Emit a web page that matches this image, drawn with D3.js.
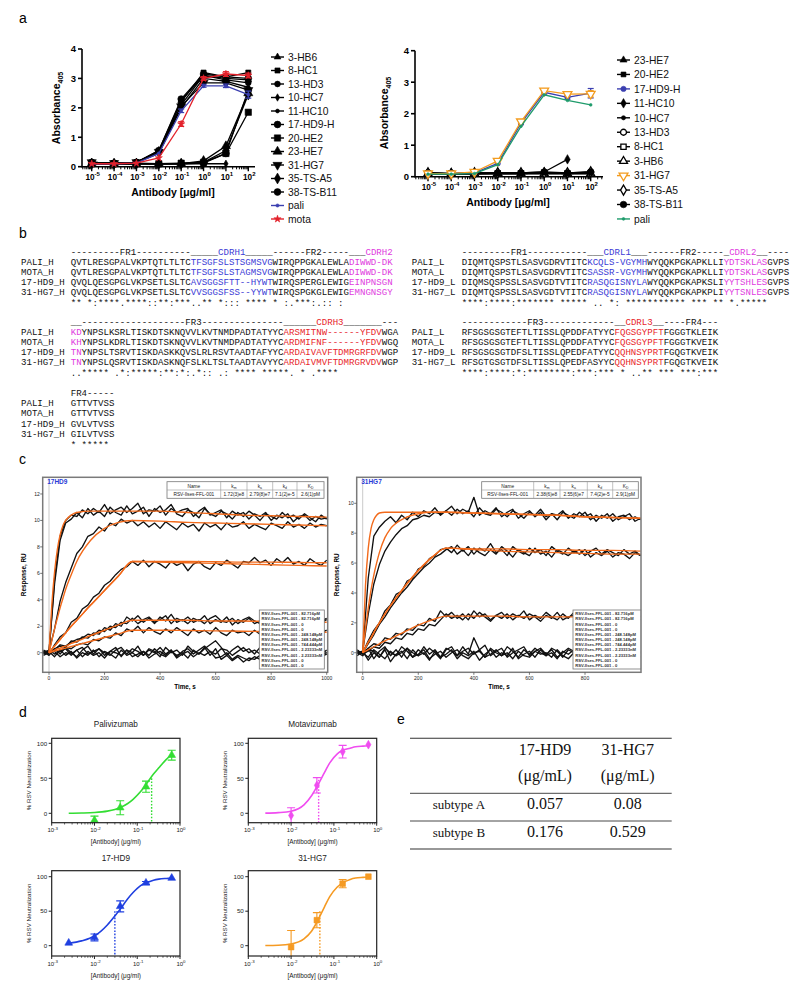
<!DOCTYPE html>
<html><head><meta charset="utf-8">
<script src="https://cdn.jsdelivr.net/npm/d3@7/dist/d3.min.js"></script>
<style>html,body{margin:0;padding:0;background:#fff}svg{display:block}</style>
</head><body>
<svg id="fig" width="800" height="984" xmlns="http://www.w3.org/2000/svg"></svg>
<script>
// ================= DATA =================
// ---- Panel a (ELISA) ----
const elisaConc = [1e-5,1e-4,1e-3,1e-2,1e-1,1,10,100];
const elisaTickExp = [-5,-4,-3,-2,-1,0,1,2];
const elisaYTicks = [0,1,2,3,4];
const elisaLeftNames = ["3-HB6","8-HC1","13-HD3","10-HC7","11-HC10","17-HD9-H","20-HE2","23-HE7","31-HG7","35-TS-A5","38-TS-B11","pali","mota"];
const elisaLeftValues = [
  [0.15,0.12,0.15,0.55,2.25,3.10,3.00,2.95],
  [0.12,0.10,0.15,0.50,2.20,3.20,3.05,3.20],
  [0.15,0.12,0.15,0.50,2.10,3.10,2.95,2.85],
  [0.10,0.10,0.10,0.10,0.10,0.10,0.10],
  [0.15,0.12,0.15,0.45,2.00,3.00,2.90,2.70],
  [0.15,0.12,0.15,0.55,2.30,3.15,3.05,3.00],
  [0.10,0.10,0.10,0.10,0.12,0.15,0.45,1.85],
  [0.10,0.10,0.10,0.10,0.10,0.20,0.70,2.50],
  [0.15,0.12,0.15,0.50,2.05,2.85,2.85,2.60],
  [0.10,0.10,0.10,0.10,0.10,0.15,0.55,2.45],
  [0.12,0.10,0.12,0.10,0.10,0.12,0.45,2.60],
  [0.10,0.10,0.12,0.45,1.90,2.75,2.75,2.45],
  [0.10,0.10,0.12,0.30,1.45,3.00,3.15,3.10]
];
const elisaLeftErr = [null,null,null,null,null,null,null,null,null,null,null,
  [0,0,0,0,0.06,0.05,0.06,0.12],[0,0,0,0,0.08,0.06,0.08,0.08]];
const elisaRightNames = ["23-HE7","20-HE2","17-HD9-H","11-HC10","10-HC7","13-HD3","8-HC1","3-HB6","31-HG7","35-TS-A5","38-TS-B11","pali"];
const elisaRightValues = [
  [0.10,0.10,0.10,0.10,0.10,0.10,0.10,0.10],
  [0.08,0.08,0.08,0.10,0.10,0.12,0.10,0.12],
  [0.10,0.10,0.12,0.42,1.70,2.68,2.52,2.65],
  [0.12,0.10,0.10,0.12,0.12,0.15,0.55],
  [0.10,0.10,0.10,0.10,0.10,0.10,0.10,0.12],
  [0.12,0.10,0.12,0.10,0.10,0.12,0.10,0.15],
  [0.10,0.10,0.10,0.10,0.10,0.12,0.10,0.10],
  [0.10,0.10,0.10,0.12,0.10,0.10,0.10,0.10],
  [0.10,0.10,0.15,0.50,1.75,2.73,2.62,2.63],
  [0.12,0.10,0.12,0.12,0.12,0.12,0.12,0.15],
  [0.12,0.10,0.12,0.12,0.12,0.15,0.12,0.15],
  [0.08,0.08,0.10,0.38,1.60,2.60,2.42,2.28]
];
const elisaRightErr = [null,null,[0,0,0,0,0.05,0.06,0.06,0.15],null,null,null,null,null,[0,0,0,0,0.05,0.06,0.05,0.10],null,null,null];

// ---- Panel b (alignment) ----
const heavyNames = ["PALI_H","MOTA_H","17-HD9_H","31-HG7_H"];
const lightNames = ["PALI_L","MOTA_L","17-HD9_L","31-HG7_L"];
const heavy1Header = ["---------FR1----------","_____CDRH1_____","------FR2-----","___CDRH2"];
const heavy1Rows = [
  ["QVTLRESGPALVKPTQTLTLTC","TFSGFSLSTSGMSVG","WIRQPPGKALEWLA","DIWWD-DK"],
  ["QVTLRESGPALVKPTQTLTLTC","TFSGFSLSTAGMSVG","WIRQPPGKALEWLA","DIWWD-DK"],
  ["QVQLQESGPGLVKPSETLSLTC","AVSGGSFTT--HYWT","WIRQSPERGLEWIG","EINPNSGN"],
  ["QVQLQESGPGLVKPSETLSLTC","VVSGGSFSS--YYWT","WIRQSPGKGLEWIG","EMNGNSGY"]
];
const heavy1Cons = "** *:****.****::**:***" + "..** *:::      " + "**** * :.***:." + "::  :   ";
const heavy2Header = ["__","-------------------FR3---------------","______CDRH3_______","---"];
const heavy2Rows = [
  ["KD","YNPSLKSRLTISKDTSKNQVVLKVTNMDPADTATYYC","ARSMITNW------YFDV","WGA"],
  ["KH","YNPSLKDRLTISKDTSKNQVVLKVTNMDPADTATYYC","ARDMIFNF------YFDV","WGQ"],
  ["TN","YNPSLTSRVTISKDASKKQVSLRLRSVTAADTAFYYC","ARDAIVAVFTDMRGRFDV","WGP"],
  ["TN","YNPSLQSRVTISKDASKNQFSLKLTSLTAADTAVYYC","ARDAIVMVFTDMRGRVDV","WGP"]
];
const heavy2Cons = ".." + "***** .*:*****:**:*:.*:: .:  **** ***" + "**. *          .**" + "** ";
const heavy3Header = ["FR4-----"];
const heavy3Rows = [["GTTVTVSS"],["GTTVTVSS"],["GVLVTVSS"],["GILVTVSS"]];
const heavy3Cons = "*  *****";
const light1Header = ["---------FR1-----------","___CDRL1___","------FR2-----","_CDRL2__","----"];
const light1Rows = [
  ["DIQMTQSPSTLSASVGDRVTITC","KCQLS-VGYMH","WYQQKPGKAPKLLI","YDTSKLAS","GVPS"],
  ["DIQMTQSPSTLSASVGDRVTITC","SASSR-VGYMH","WYQQKPGKAPKLLI","YDTSKLAS","GVPS"],
  ["DIQMSQSPSSLSASVGDTVTITC","RASQGISNYLA","WYQQKPGKAPKSLI","YYTSHLES","GVPS"],
  ["DIQMTQSPSSLSASVGDTVTITC","RASQGISNYLA","WYQQKPGKAPKPLI","YYTSNLES","GVPS"]
];
const light1Cons = "****:****:******* *****" + "  ..    *: " + "*********** **" + "* ** *.*" + "****";
const light2Header = ["------------FR3-------------","__CDRL3__","----FR4---"];
const light2Rows = [
  ["RFSGSGSGTEFTLTISSLQPDDFATYYC","FQGSGYPFT","FGGGTKLEIK"],
  ["RFSGSGSGTEFTLTISSLQPDDFATYYC","FQGSGYPFT","FGGGTKVEIK"],
  ["RFSGSGSGTDFSLTISSLQPEDFATYYC","QQHNSYPRT","FGQGTKVEIK"],
  ["RFSGTGSGTDFSLTISSLQPEDFASYYC","QQHNSYPRT","FGQGTKVEIK"]
];
const light2Cons = "****:****:*:********:***:***" + " * ..** *" + "** ***:***";

// ---- Panel c (SPR sensorgrams), sampled every 20 s from -20 s ----
const hd9Traces = [
  [0.2,0.0,5.6,8.8,10.0,10.4,10.3,10.8,10.5,10.9,10.6,11.2,10.5,10.8,11.0,10.6,10.9,11.3,10.5,10.8,10.7,11.1,10.4,10.9,10.6,10.8,10.9,10.3,10.7,11.0,10.4,10.6,10.8,10.2,10.7,10.4,10.6,10.1,10.5,10.3,10.6,10.0,10.4,10.2,10.5,9.9,10.3,10.4,10.0,10.3,10.1,10.2],
  [0.0,0.1,5.2,8.5,9.8,10.1,10.6,10.2,10.9,10.4,10.7,10.3,11.0,10.6,10.4,11.1,10.5,10.7,11.0,10.3,10.9,10.6,10.8,11.2,10.5,10.3,10.8,10.6,10.2,10.9,10.5,10.3,10.7,10.5,10.1,10.6,10.3,10.7,10.4,10.0,10.5,10.3,10.1,10.6,10.2,10.4,10.1,10.5,10.2,9.9,10.4,10.1],
  [0.0,0.1,1.8,3.9,5.3,6.4,7.5,8.0,8.8,9.0,9.5,9.2,9.8,9.6,10.1,9.8,10.0,9.6,9.9,9.5,9.8,9.4,9.9,9.6,9.3,9.8,9.5,9.7,9.2,9.8,9.5,9.7,9.3,9.8,9.5,9.6,9.9,9.4,9.7,9.5,9.3,9.8,9.6,9.4,9.9,9.5,9.7,9.4,9.8,9.5,9.7,9.6],
  [0.0,-0.1,0.6,1.2,1.5,2.3,2.6,3.3,3.6,4.2,4.5,5.1,5.4,5.9,6.3,6.5,6.9,6.6,7.0,6.5,6.9,6.7,6.4,6.9,6.6,6.8,6.2,6.7,6.9,6.5,6.3,6.8,6.6,7.0,6.7,6.4,6.9,6.8,7.2,6.8,7.0,6.6,7.1,6.8,7.2,6.7,6.9,6.6,7.1,6.8,6.6,7.0],
  [0.0,0.0,0.3,0.5,0.4,0.9,0.8,1.2,1.1,1.5,1.4,1.9,1.7,2.2,2.0,2.7,2.4,2.8,2.3,2.6,2.2,2.7,2.4,2.9,2.3,2.5,2.2,2.6,2.4,2.8,2.2,2.5,2.3,2.7,2.1,2.5,2.3,2.6,2.2,2.4,2.6,2.3,2.5,2.2,2.6,2.4,2.7,2.3,2.5,2.8,2.4,2.6],
  [0.1,0.0,0.2,0.6,0.5,0.8,1.0,1.1,1.4,1.3,1.7,1.6,2.0,1.9,2.3,2.2,2.6,2.2,2.5,2.7,2.3,2.5,2.8,2.2,2.6,2.4,2.7,2.3,2.5,2.2,2.6,2.8,2.4,2.3,2.6,2.2,2.5,2.7,2.4,2.2,2.5,2.3,2.6,2.4,2.2,2.5,2.3,2.6,2.2,2.4,2.3,2.5],
  [0.1,0.0,0.2,0.1,0.4,0.3,0.6,0.7,0.6,1.0,0.9,1.2,1.1,1.5,1.3,1.8,1.6,2.0,1.5,1.9,1.6,1.4,1.8,1.5,1.9,1.6,1.3,1.8,1.5,1.7,1.4,1.9,1.5,1.3,1.7,1.5,1.6,1.3,1.7,1.4,1.6,1.8,1.4,1.6,1.3,1.7,1.5,1.8,1.4,1.6,1.5,1.7],
  [0.1,-0.2,0.3,-0.1,0.4,0.0,-0.3,0.2,0.5,-0.1,0.3,-0.2,0.1,0.4,-0.3,0.2,0.0,0.5,-0.2,0.3,0.1,-0.3,0.4,0.0,0.2,-0.2,0.5,0.1,-0.1,0.3,0.6,0.9,0.4,-0.2,0.2,0.5,0.1,0.3,-0.1,0.4,0.2,0.0,0.5,0.1,0.3,-0.2,0.4,0.2,0.0,0.3,-0.1,0.2],
  [-0.1,0.1,-0.3,0.2,-0.2,0.1,-0.4,0.0,-0.2,0.2,-0.3,0.1,-0.1,-0.4,0.2,-0.2,0.0,-0.3,0.1,-0.2,0.3,-0.1,-0.3,0.1,-0.2,0.0,-0.4,0.2,-0.1,0.4,-0.2,0.3,-0.5,-0.2,-0.6,-0.3,-0.7,-0.4,-0.5,-0.2,-0.4,0.0,-0.3,0.1,-0.2,0.2,-0.1,-0.3,0.1,-0.2,0.0,-0.1],
  [0.0,0.2,-0.1,0.1,0.3,-0.2,0.2,0.4,-0.1,0.1,0.3,0.0,-0.2,0.2,0.4,-0.1,0.3,0.1,-0.2,0.2,0.0,0.4,-0.1,0.2,-0.3,0.1,0.3,-0.1,0.2,0.5,0.1,-0.1,0.3,0.2,-0.2,0.1,0.4,0.0,0.2,-0.1,0.3,0.1,-0.2,0.2,0.4,0.0,-0.1,0.3,0.1,-0.2,0.2,0.0],
  [-0.2,0.0,0.1,-0.3,0.0,-0.1,0.2,-0.3,0.1,-0.2,0.0,-0.4,0.1,0.0,-0.2,0.2,-0.3,-0.1,0.1,-0.4,-0.1,0.1,-0.2,0.2,-0.4,-0.1,0.1,-0.3,0.0,-0.2,0.1,-0.4,-0.3,0.0,-0.5,-0.2,-0.4,-0.6,-0.3,-0.5,-0.1,-0.3,0.0,-0.2,0.1,-0.3,-0.1,0.1,-0.2,0.0,-0.3,-0.1]
];
const hg7Traces = [
  [0.1,0.0,5.0,7.8,8.4,8.8,9.1,8.7,9.2,8.9,9.4,9.1,9.5,9.3,9.7,9.2,9.5,9.8,9.3,9.6,9.4,10.4,9.2,9.5,9.3,9.7,9.1,9.4,9.6,9.0,9.3,9.5,9.1,9.4,8.9,9.3,9.2,9.5,9.0,9.3,9.1,9.4,8.9,9.2,9.0,9.3,8.8,9.1,9.2,8.9,9.1,8.9],
  [0.0,0.1,2.6,4.6,5.9,6.8,7.4,7.9,8.3,8.5,8.9,9.0,9.2,9.1,9.4,9.3,9.5,9.2,9.6,9.3,9.5,9.1,9.7,9.3,9.2,9.6,9.4,9.1,9.5,9.3,9.0,9.4,9.2,9.6,9.1,9.3,8.9,9.4,9.2,9.0,9.4,9.1,9.3,8.8,9.2,9.0,9.3,8.9,9.1,9.3,8.8,9.0],
  [0.0,0.0,0.8,1.5,2.0,2.8,3.2,3.9,4.1,4.8,5.0,5.6,5.8,6.3,6.5,6.9,7.0,6.7,7.2,6.8,7.1,6.6,7.0,6.8,7.3,6.7,6.9,6.5,7.1,6.8,6.6,7.0,6.7,6.9,6.5,7.1,6.8,6.6,7.0,6.7,6.9,6.5,6.8,7.0,6.6,6.9,6.7,6.5,6.9,6.6,6.8,6.5],
  [0.1,0.0,0.6,1.2,1.9,2.4,3.0,3.5,4.0,4.4,4.9,5.3,5.7,6.0,6.4,6.6,6.9,7.1,6.6,6.9,6.5,7.0,6.7,6.5,6.9,6.6,7.1,6.8,6.4,6.9,6.7,6.5,7.0,6.6,6.8,6.4,6.9,6.7,6.5,6.8,6.6,6.9,6.4,6.7,6.5,6.8,6.4,6.7,6.6,6.3,6.7,6.5],
  [0.0,0.0,0.3,0.6,0.5,1.0,0.9,1.3,1.2,1.6,1.5,1.9,1.8,2.3,2.1,2.8,2.4,2.7,2.3,2.6,2.2,2.8,2.4,2.6,2.2,2.5,2.7,2.3,2.6,2.4,2.8,2.2,2.5,2.3,2.7,2.4,2.2,2.6,2.3,2.7,2.4,2.2,2.6,2.3,2.8,2.4,2.2,2.6,2.5,2.3,2.7,2.4],
  [0.1,0.0,0.1,0.4,0.3,0.7,0.6,1.0,0.9,1.3,1.2,1.6,1.5,1.9,1.8,2.2,2.6,2.3,2.5,2.2,2.6,2.3,2.7,2.4,2.1,2.5,2.3,2.6,2.2,2.5,2.3,2.6,2.4,2.1,2.5,2.3,2.7,2.2,2.4,2.5,2.2,2.6,2.3,2.5,2.1,2.4,2.6,2.2,2.4,2.3,2.5,2.2],
  [0.2,-0.1,0.3,-0.4,0.1,0.4,-0.2,0.2,-0.3,0.3,0.0,-0.2,0.4,-0.1,0.2,-0.3,0.3,0.1,-0.2,0.4,-0.1,1.0,0.2,-0.3,0.3,0.0,-0.2,0.4,0.1,-0.3,0.2,-0.1,0.3,0.0,-0.2,0.3,0.1,-0.3,0.2,0.0,0.4,-0.2,0.1,0.3,-0.1,0.2,-0.3,0.1,0.3,-0.2,0.2,0.0],
  [-0.2,0.1,-0.5,0.0,-0.3,0.2,-0.6,-0.1,0.1,-0.4,0.2,-0.2,0.0,-0.5,0.1,-0.3,-0.1,0.2,-0.4,0.0,-0.2,0.1,-0.5,-0.1,0.2,-0.3,0.0,-0.2,0.3,-0.4,-0.1,0.1,-0.3,0.2,-0.2,0.0,-0.4,0.1,-0.1,0.2,-0.3,0.0,-0.2,0.1,-0.4,0.0,0.2,-0.3,-0.1,0.1,-0.2,0.0],
  [0.0,-0.2,0.2,0.1,-0.3,0.3,0.0,-0.2,0.4,0.1,-0.3,0.2,-0.1,0.3,0.0,-0.4,0.2,0.4,-0.2,0.1,0.3,-0.1,0.2,0.5,-0.2,0.1,0.3,-0.3,0.0,0.2,0.4,-0.2,0.1,0.3,-0.1,0.2,-0.3,0.0,0.3,0.1,-0.2,0.4,0.0,-0.1,0.2,0.3,-0.2,0.1,-0.1,0.3,0.0,0.1],
  [0.1,0.0,-0.3,0.2,-0.1,-0.4,0.1,-0.2,0.0,0.3,-0.3,-0.1,0.2,-0.4,-0.1,0.1,-0.3,0.0,0.2,-0.2,-0.4,0.0,0.1,-0.3,-0.1,0.2,-0.2,0.0,-0.4,0.1,-0.2,-0.3,0.1,-0.1,0.0,-0.3,0.2,-0.2,-0.4,0.0,-0.1,0.2,-0.3,0.0,-0.2,0.1,-0.4,0.0,-0.2,0.1,-0.1,-0.3]
];
const fitTimes = [0,10,20,30,40,50,60,80,100,150,200,250,300,400,500,600,700,800,900,1000];
const hd9Fits = [
  [0,3.6,6.1,7.8,8.9,9.6,10.0,10.4,10.6,10.7,10.7,10.7,10.7,10.7,10.6,10.5,10.4,10.35,10.3,10.25],
  [0,0.9,1.8,2.6,3.4,4.1,4.8,5.9,6.9,8.5,9.4,9.85,10.0,9.95,9.85,9.8,9.75,9.7,9.65,9.6],
  [0,0.25,0.5,0.75,1.0,1.25,1.5,2.0,2.45,3.6,4.7,5.8,6.9,6.85,6.8,6.75,6.7,6.65,6.6,6.55],
  [0,0.25,0.5,0.75,1.0,1.25,1.5,2.0,2.45,3.6,4.7,5.8,6.9,6.9,6.9,6.88,6.85,6.85,6.82,6.8],
  [0,0.1,0.2,0.3,0.35,0.45,0.5,0.7,0.85,1.3,1.7,2.1,2.45,2.45,2.45,2.4,2.4,2.35,2.35,2.3],
  [0,0.06,0.12,0.18,0.24,0.3,0.35,0.47,0.58,0.87,1.15,1.42,1.7,1.7,1.68,1.65,1.62,1.6,1.58,1.55]
];
const hg7Fits = [
  [0,4.5,7.0,8.3,8.9,9.2,9.35,9.4,9.4,9.4,9.4,9.4,9.4,9.35,9.3,9.25,9.2,9.1,9.05,9.0],
  [0,1.6,3.0,4.2,5.2,6.0,6.7,7.7,8.3,9.0,9.3,9.4,9.4,9.35,9.3,9.25,9.2,9.1,9.05,9.0],
  [0,0.35,0.7,1.0,1.35,1.7,2.0,2.6,3.15,4.4,5.5,6.4,7.0,6.95,6.95,6.9,6.9,6.85,6.85,6.8],
  [0,0.35,0.7,1.0,1.35,1.7,2.0,2.6,3.15,4.4,5.5,6.4,7.0,6.9,6.8,6.75,6.7,6.65,6.6,6.6],
  [0,0.1,0.2,0.3,0.4,0.5,0.6,0.8,0.95,1.4,1.85,2.2,2.45,2.45,2.45,2.4,2.4,2.4,2.35,2.35]
];
const sprTableHead = ["Name","k","k","k","K"];
const sprTableSub = ["","m","a","d","D"];
const hd9TableRow = ["RSV-Ilses-FFL-001","1.72(3)e8","2.79(8)e7","7.1(2)e-5","2.6(1)pM"];
const hg7TableRow = ["RSV-Ilses-FFL-001","2.38(6)e8","2.55(6)e7","7.4(2)e-5","2.9(1)pM"];
const sprLegend = ["RSV-Ilses-FFL-001 - 82.716pM","RSV-Ilses-FFL-001 - 82.716pM","RSV-Ilses-FFL-001 - 0","RSV-Ilses-FFL-001 - 0","RSV-Ilses-FFL-001 - 248.148pM","RSV-Ilses-FFL-001 - 248.148pM","RSV-Ilses-FFL-001 - 744.444pM","RSV-Ilses-FFL-001 - 2.23333nM","RSV-Ilses-FFL-001 - 2.23333nM","RSV-Ilses-FFL-001 - 0","RSV-Ilses-FFL-001 - 0"];
const sprXTicksL = [0,200,400,600,800,1000];
const sprXTicksR = [0,200,400,600,800];
const sprYTicksL = [0,2,4,6,8,10,12];
const sprYTicksR = [0,2,4,6,8,10];

// ---- Panel d (neutralization) ----
const neutTitles = ["Palivizumab","Motavizumab","17-HD9","31-HG7"];
const neutCurveX = [0.0025,0.005,0.01,0.02,0.03,0.04,0.06,0.08,0.12,0.16,0.24,0.32,0.48,0.64];
const paliCurveY = [0.1,0.4,1.1,3.1,5.5,8.2,14,20,31,41,56,65,77,84];
const motaCurveY = [0.3,1,3,12,25,38,58,72,85,90,93,95,96,96.5];
const hd9CurveY  = [3.5,7,14,30,43,53,68,77,87,91,95,96.5,97.5,98];
const hg7CurveY  = [0.2,0.6,2.5,10,21,34,56,71,85,91,96,98,99,99.5];
const paliPtsX = [0.01,0.04,0.16,0.64], paliPtsY = [-10,8,38,83], paliErr = [6,10,8,7];
const motaPtsX = [0.01,0.04,0.16,0.64], motaPtsY = [-3,40,88,98], motaErr = [11,11,9,1];
const hd9PtsX = [0.0025,0.01,0.04,0.16,0.64], hd9PtsY = [4,12,57,91,98], hd9Err = [1,5,8,2,1];
const hg7PtsX = [0.01,0.04,0.16,0.64], hg7PtsY = [-2,37,90,100], hg7Err = [24,11,6,1];
const ic50X = [0.217,0.044,0.030,0.047];
const ic50Y = [50,48,50,50];
const neutYTicks = [0,50,100];
const neutXExp = [-3,-2,-1,0];

// ---- Panel e (IC50 table) ----
const ic50Cols = ["17-HD9","31-HG7"];
const ic50Unit = "(\u03bcg/mL)";
const ic50Rows = ["subtype A","subtype B"];
const ic50Vals = [["0.057","0.08"],["0.176","0.529"]];

// ================= DRAWING =================
const svg = d3.select("#fig");
const SANS = "Arial, 'Liberation Sans', Helvetica, sans-serif";
const MONO = "'Liberation Mono', 'Courier New', 'DejaVu Sans Mono', monospace";
const SERIF = "'Liberation Serif', 'Times New Roman', serif";
svg.append("rect").attr("width",800).attr("height",984).attr("fill","#fff");

const symMap = {tri:d3.symbolTriangle, triD:d3.symbolTriangle, sq:d3.symbolSquare, circ:d3.symbolCircle, dia:d3.symbolDiamond, star:d3.symbolStar};
function drawMarker(g, st, x, y) {
  g.append("path").attr("d", d3.symbol().type(symMap[st.k]).size(st.s)())
    .attr("transform", `translate(${x},${y})` + (st.k === "triD" ? " rotate(180)" : ""))
    .attr("fill", st.open ? "#fff" : st.c).attr("stroke", st.c).attr("stroke-width", st.open ? 1.3 : 0.6);
}

// panel letters
[["a",19,23],["b",19,238],["c",19,464],["d",19,717],["e",397,724]].forEach(([t,x,y]) => {
  svg.append("text").attr("x",x).attr("y",y).attr("font-family",SANS).attr("font-size",14).text(t);
});

// ---------- Panel a ----------
function drawElisa(o) {
  const g = svg.append("g").attr("font-family", SANS);
  const x = d3.scaleLog().domain(o.xDom).range([o.x0, o.x1]);
  const y = d3.scaleLinear().domain([0, 4]).range([o.yB, o.yT]);
  const L = (x1,y1,x2,y2,w) => g.append("line").attr("x1",x1).attr("y1",y1).attr("x2",x2).attr("y2",y2).attr("stroke","#000").attr("stroke-width",w||1.6);
  L(o.x0, o.yB, o.x1, o.yB); L(o.x0, o.yB + 0.8, o.x0, o.yT);
  elisaYTicks.forEach(v => {
    L(o.x0 - 4, y(v), o.x0, y(v));
    g.append("text").attr("x", o.x0 - 6).attr("y", y(v) + 3.3).attr("text-anchor","end")
      .attr("font-size", 9.5).attr("font-weight","bold").text(v);
  });
  const lo = Math.floor(Math.log10(o.xDom[0])), hi = Math.ceil(Math.log10(o.xDom[1]));
  for (let e = lo; e <= hi; e++) for (let k = 2; k <= 9; k++) {
    const v = k * Math.pow(10, e);
    if (v > o.xDom[0] && v < o.xDom[1]) L(x(v), o.yB, x(v), o.yB + 2.6, 1);
  }
  elisaTickExp.forEach(e => {
    const xx = x(Math.pow(10, e));
    L(xx, o.yB, xx, o.yB + 4.5, 1.4);
    const t = g.append("text").attr("x", xx + 1).attr("y", o.yB + 13).attr("text-anchor","middle")
      .attr("font-size", 8.2).attr("font-weight","bold");
    t.append("tspan").text("10");
    t.append("tspan").attr("dy", -3.6).attr("font-size", 6).text(e);
  });
  g.append("text").attr("x", o.xTitleX).attr("y", o.xTitleY).attr("text-anchor","middle")
    .attr("font-size", 10.5).attr("font-weight","bold").text("Antibody [\u03bcg/ml]");
  const yt = g.append("text").attr("transform", `translate(${o.yTitleX},${o.yTitleY}) rotate(-90)`)
    .attr("text-anchor","middle").attr("font-size", 10.5).attr("font-weight","bold");
  yt.append("tspan").text("Absorbance");
  yt.append("tspan").attr("dy", 3).attr("font-size", 7).text("405");
  const order = d3.range(o.values.length).sort((a, b) => (o.styles[a].c === "#000" ? 0 : 1) - (o.styles[b].c === "#000" ? 0 : 1));
  const line = d3.line().x((d, i) => x(elisaConc[i])).y(d => y(d));
  order.forEach(i => {
    const vals = o.values[i], st = o.styles[i];
    g.append("path").attr("d", line(vals)).attr("fill","none").attr("stroke", st.c).attr("stroke-width", st.lw || 1.3);
    const err = o.errs[i];
    if (err) vals.forEach((v, j) => {
      if (err[j] > 0.02) {
        const xx = x(elisaConc[j]);
        L(xx, y(v - err[j]), xx, y(v + err[j]), 1.2).attr("stroke", st.c);
        L(xx - 3, y(v - err[j]), xx + 3, y(v - err[j]), 1.2).attr("stroke", st.c);
        L(xx - 3, y(v + err[j]), xx + 3, y(v + err[j]), 1.2).attr("stroke", st.c);
      }
    });
    vals.forEach((v, j) => drawMarker(g, st, x(elisaConc[j]), y(v)));
  });
  o.names.forEach((n, i) => {
    const st = o.styles[i], yy = o.legY0 + i * o.legStep;
    g.append("line").attr("x1", o.legX - 6.5).attr("x2", o.legX + 6.5).attr("y1", yy).attr("y2", yy)
      .attr("stroke", st.c).attr("stroke-width", 1.4);
    drawMarker(g, st, o.legX, yy);
    g.append("text").attr("x", o.legX + 10.5).attr("y", yy + 3.7).attr("font-size", 10.3).attr("fill","#111").text(n);
  });
}
const K = "#000", BL = "#3b3fb0", RD = "#e3222b", OR = "#f39c1f", TL = "#1e9b6b";
drawElisa({
  xDom:[Math.pow(10,-5.434), Math.pow(10,2.30)], x0:82, x1:255, yB:166.7, yT:49,
  values: elisaLeftValues, errs: elisaLeftErr, names: elisaLeftNames,
  styles:[{k:"tri",s:20,c:K},{k:"sq",s:26,c:K},{k:"circ",s:26,c:K},{k:"dia",s:16,c:K},{k:"circ",s:12,c:K},
    {k:"circ",s:36,c:K},{k:"sq",s:40,c:K},{k:"tri",s:36,c:K},{k:"triD",s:36,c:K},{k:"dia",s:34,c:K},
    {k:"circ",s:36,c:K},{k:"circ",s:8,c:BL},{k:"star",s:16,c:RD}],
  legX:277.5, legY0:57, legStep:13.5, xTitleX:173, xTitleY:196, yTitleX:60, yTitleY:108
});
drawElisa({
  xDom:[Math.pow(10,-5.559), Math.pow(10,2.529)], x0:415, x1:603, yB:176.7, yT:50.7,
  values: elisaRightValues, errs: elisaRightErr, names: elisaRightNames,
  styles:[{k:"tri",s:22,c:K},{k:"sq",s:24,c:K},{k:"circ",s:22,c:BL},{k:"dia",s:26,c:K},{k:"circ",s:14,c:K},
    {k:"circ",s:28,c:K,open:true},{k:"sq",s:28,c:K,open:true},{k:"tri",s:28,c:K,open:true},
    {k:"triD",s:34,c:OR,open:true},{k:"dia",s:30,c:K,open:true},{k:"circ",s:34,c:K},{k:"circ",s:6,c:TL}],
  legX:623.5, legY0:60, legStep:14.45, xTitleX:508, xTitleY:206, yTitleX:388, yTitleY:113
});

// ---------- Panel b ----------
const colMap = {k:"#111", b:"#3c3cd6", m:"#e03ce0", r:"#e8262b"};
function drawBlock(o) {
  const g = svg.append("g").attr("font-family", MONO).attr("font-size", 9.1).style("white-space","pre");
  const h = g.append("text").attr("x", o.x).attr("y", o.y0);
  o.header.forEach((seg, i) => {
    const c = o.colors[i];
    const m = seg.match(/^([_\-]*)([A-Z0-9]+)([_\-]*)$/);
    if (c === "k" || !m) { h.append("tspan").attr("fill", colMap.k).text(seg); return; }
    h.append("tspan").attr("fill", colMap.k).text(m[1]);
    h.append("tspan").attr("fill", colMap[c]).text(m[2]);
    h.append("tspan").attr("fill", colMap.k).text(m[3]);
  });
  o.rows.forEach((segs, r) => {
    const yy = o.y0 + (r + 1) * o.step;
    g.append("text").attr("x", o.nameX).attr("y", yy).attr("fill","#111").text(o.names[r]);
    const t = g.append("text").attr("x", o.x).attr("y", yy);
    segs.forEach((s, i) => t.append("tspan").attr("fill", colMap[o.colors[i]]).text(s));
  });
  g.append("text").attr("x", o.x).attr("y", o.y0 + 5 * o.step + 1).attr("fill","#111").text(o.cons);
}
drawBlock({x:70.7, nameX:21, y0:255.3, step:9.85, header:heavy1Header, rows:heavy1Rows, names:heavyNames, colors:["k","b","k","m"], cons:heavy1Cons});
drawBlock({x:70.7, nameX:21, y0:325.2, step:9.95, header:heavy2Header, rows:heavy2Rows, names:heavyNames, colors:["m","k","r","k"], cons:heavy2Cons});
drawBlock({x:70.7, nameX:21, y0:395.6, step:10.3, header:heavy3Header, rows:heavy3Rows, names:heavyNames, colors:["k"], cons:heavy3Cons});
drawBlock({x:461.7, nameX:411.7, y0:255.3, step:9.95, header:light1Header, rows:light1Rows, names:lightNames, colors:["k","b","k","m","k"], cons:light1Cons});
drawBlock({x:461.7, nameX:411.7, y0:325.2, step:10.05, header:light2Header, rows:light2Rows, names:lightNames, colors:["k","r","k"], cons:light2Cons});

// ---------- Panel c ----------
const senT = d3.range(-20, 1001, 20);
function drawSPR(o) {
  const g = svg.append("g").attr("font-family", SANS);
  const x = d3.scaleLinear().domain(o.xDom).range([o.left, o.right]);
  const y = d3.scaleLinear().domain(o.yDom).range([o.bottom, o.top]);
  svg.append("clipPath").attr("id", "clip" + o.id).append("rect")
    .attr("x", o.left).attr("y", o.top).attr("width", o.right - o.left).attr("height", o.bottom - o.top);
  const inner = g.append("g").attr("clip-path", `url(#clip${o.id})`);
  inner.append("line").attr("x1", x(0)).attr("x2", x(0)).attr("y1", o.top).attr("y2", o.bottom).attr("stroke","#bbb").attr("stroke-width",0.8);
  const tl = d3.line().x((d, i) => x(senT[i])).y(d => y(d));
  o.traces.forEach(tr => inner.append("path").attr("d", tl(tr)).attr("fill","none").attr("stroke","#111").attr("stroke-width",1.35).attr("stroke-linejoin","round"));
  const fl = d3.line().x((d, i) => x(fitTimes[i])).y(d => y(d)).curve(d3.curveMonotoneX);
  o.fits.forEach(f => inner.append("path").attr("d", fl(f)).attr("fill","none").attr("stroke","#f26a1b").attr("stroke-width",1.4));
  g.append("rect").attr("x", o.left).attr("y", o.top).attr("width", o.right - o.left).attr("height", o.bottom - o.top)
    .attr("fill","none").attr("stroke","#7a7a7a").attr("stroke-width",1.5);
  g.append("text").attr("x", o.left + 4.5).attr("y", o.top + 7).attr("font-size", 6.5).attr("font-weight","bold").attr("fill","#2a3bd6").text(o.label);
  o.xTicks.forEach(v => {
    g.append("line").attr("x1", x(v)).attr("x2", x(v)).attr("y1", o.bottom).attr("y2", o.bottom + 2.5).attr("stroke","#555").attr("stroke-width",0.8);
    g.append("text").attr("x", x(v)).attr("y", o.bottom + 7.5).attr("text-anchor","middle").attr("font-size", 5).attr("fill","#222").text(v);
  });
  o.yTicks.forEach(v => {
    g.append("line").attr("x1", o.left - 2.5).attr("x2", o.left).attr("y1", y(v)).attr("y2", y(v)).attr("stroke","#555").attr("stroke-width",0.8);
    g.append("text").attr("x", o.left - 3).attr("y", y(v) + 1.8).attr("text-anchor","end").attr("font-size", 5).attr("fill","#222").text(v);
  });
  g.append("text").attr("x", o.xTitleX).attr("y", o.bottom + 17).attr("text-anchor","middle").attr("font-size",6.3).attr("font-weight","bold").text("Time, s");
  g.append("text").attr("transform", `translate(${o.yTitleX},${(o.top + o.bottom) / 2}) rotate(-90)`).attr("text-anchor","middle")
    .attr("font-size",6.3).attr("font-weight","bold").text("Response, RU");
  const tb = o.table, rowH = 8.3;
  g.append("rect").attr("x", tb[0]).attr("y", o.top + 4.4).attr("width", tb[5] - tb[0]).attr("height", 2 * rowH)
    .attr("fill","#fff").attr("stroke","#777").attr("stroke-width",0.8);
  g.append("line").attr("x1", tb[0]).attr("x2", tb[5]).attr("y1", o.top + 4.4 + rowH).attr("y2", o.top + 4.4 + rowH).attr("stroke","#999").attr("stroke-width",0.6);
  for (let c = 1; c < 5; c++) g.append("line").attr("x1", tb[c]).attr("x2", tb[c]).attr("y1", o.top + 4.4).attr("y2", o.top + 4.4 + 2 * rowH).attr("stroke","#999").attr("stroke-width",0.6);
  for (let c = 0; c < 5; c++) {
    const cx = (tb[c] + tb[c + 1]) / 2;
    const ht = g.append("text").attr("x", cx).attr("y", o.top + 10.6).attr("text-anchor","middle").attr("font-size",4.8).attr("fill","#222");
    ht.append("tspan").text(sprTableHead[c]);
    if (sprTableSub[c]) ht.append("tspan").attr("dy",1.2).attr("font-size",3.4).text(sprTableSub[c]);
    g.append("text").attr("x", cx).attr("y", o.top + 18.9).attr("text-anchor","middle").attr("font-size",4.8).attr("fill","#222").text(o.row[c]);
  }
  const lg = o.legend;
  g.append("rect").attr("x", lg[0]).attr("y", lg[1]).attr("width", lg[2] - lg[0]).attr("height", lg[3] - lg[1])
    .attr("fill","#fff").attr("stroke","#777").attr("stroke-width",0.8);
  sprLegend.forEach((s, i) => g.append("text").attr("x", lg[0] + 2.2).attr("y", lg[1] + 5.3 + i * 5.15)
    .attr("font-size",4.15).attr("font-weight","bold").attr("fill","#333").text(s));
}
drawSPR({id:"L", left:42.7, right:327.7, top:477.3, bottom:672.3, xDom:[-22.7,1003.6], yDom:[-1.48,13.26],
  traces:hd9Traces, fits:hd9Fits, label:"17HD9", xTicks:sprXTicksL, yTicks:sprYTicksL, xTitleX:185, yTitleX:26,
  table:[167,220.7,247,272.7,297,324], row:hd9TableRow, legend:[259.3,610,324.3,669]});
drawSPR({id:"R", left:356.7, right:641, top:477.3, bottom:672.3, xDom:[-21.6,1001.5], yDom:[-1.31,11.74],
  traces:hg7Traces, fits:hg7Fits, label:"31HG7", xTicks:sprXTicksR, yTicks:sprYTicksR, xTitleX:499, yTitleX:339,
  table:[481.7,533.7,560,587.3,612.7,638.3], row:hg7TableRow, legend:[573,610,640.7,669]});

// ---------- Panel d ----------
function drawNeut(o) {
  const g = svg.append("g").attr("font-family", SANS);
  const x = d3.scaleLog().domain([1e-3, 1]).range([o.left, o.right]);
  const y = d3.scaleLinear().domain([0, 100]).range([o.y0, o.y100]);
  svg.append("clipPath").attr("id", "nclip" + o.id).append("rect")
    .attr("x", o.left).attr("y", o.top).attr("width", o.right - o.left).attr("height", o.bottom - o.top);
  const inner = g.append("g").attr("clip-path", `url(#nclip${o.id})`);
  g.append("rect").attr("x", o.left).attr("y", o.top).attr("width", o.right - o.left).attr("height", o.bottom - o.top)
    .attr("fill","none").attr("stroke","#222").attr("stroke-width",1.2);
  neutYTicks.forEach(v => {
    g.append("line").attr("x1", o.left - 3).attr("x2", o.left).attr("y1", y(v)).attr("y2", y(v)).attr("stroke","#222").attr("stroke-width",1);
    g.append("text").attr("x", o.left - 4.5).attr("y", y(v) + 2.2).attr("text-anchor","end").attr("font-size",6.2).attr("fill","#222").text(v);
  });
  for (let e = -3; e < 0; e++) for (let k = 2; k <= 9; k++) {
    const xx = x(k * Math.pow(10, e));
    g.append("line").attr("x1", xx).attr("x2", xx).attr("y1", o.bottom).attr("y2", o.bottom + 1.8).attr("stroke","#222").attr("stroke-width",0.7);
  }
  neutXExp.forEach(e => {
    const xx = x(Math.pow(10, e));
    g.append("line").attr("x1", xx).attr("x2", xx).attr("y1", o.bottom).attr("y2", o.bottom + 3).attr("stroke","#222").attr("stroke-width",1);
    const t = g.append("text").attr("x", xx + 1).attr("y", o.bottom + 9.5).attr("text-anchor","middle").attr("font-size",6).attr("fill","#222");
    t.append("tspan").text("10");
    t.append("tspan").attr("dy",-2.6).attr("font-size",4.4).text(e);
  });
  g.append("text").attr("x", (o.left + o.right) / 2).attr("y", o.titleY).attr("text-anchor","middle").attr("font-size",8.2).attr("fill","#222").text(o.title);
  g.append("text").attr("x", (o.left + o.right) / 2).attr("y", o.bottom + 21.5).attr("text-anchor","middle").attr("font-size",6.4).attr("fill","#222").text("[Antibody] (\u03bcg/ml)");
  g.append("text").attr("transform", `translate(${o.left - 21},${(o.top + o.bottom) / 2}) rotate(-90)`).attr("text-anchor","middle")
    .attr("font-size",6.2).attr("fill","#222").text("% RSV Neutralization");
  const cl = d3.line().x((d, i) => x(neutCurveX[i])).y(d => y(d)).curve(d3.curveMonotoneX);
  inner.append("path").attr("d", cl(o.curve)).attr("fill","none").attr("stroke", o.color).attr("stroke-width",1.6);
  inner.append("line").attr("x1", x(o.ic50x)).attr("x2", x(o.ic50x)).attr("y1", y(o.ic50y)).attr("y2", o.bottom)
    .attr("stroke", o.color).attr("stroke-width",1.4).attr("stroke-dasharray","1.6,1.6");
  o.px.forEach((px, i) => {
    const xx = x(px), v = o.py[i], e = o.err[i];
    if (e > 1.5) {
      [[xx, y(v - e), xx, y(v + e)], [xx - 4, y(v - e), xx + 4, y(v - e)], [xx - 4, y(v + e), xx + 4, y(v + e)]].forEach(s =>
        inner.append("line").attr("x1", s[0]).attr("y1", s[1]).attr("x2", s[2]).attr("y2", s[3]).attr("stroke", o.color).attr("stroke-width",1.1));
    }
    drawMarker(inner, {k:o.sym, s:o.symSize, c:o.color}, xx, y(v));
  });
}
drawNeut({id:0, left:51.7, right:180, top:738.3, bottom:822.7, y0:813.3, y100:743.3, titleY:726.5, title:neutTitles[0],
  curve:paliCurveY, px:paliPtsX, py:paliPtsY, err:paliErr, ic50x:ic50X[0], ic50y:ic50Y[0], color:"#33dd33", sym:"tri", symSize:26});
drawNeut({id:1, left:248.3, right:376.7, top:738.3, bottom:822.7, y0:813.3, y100:743.3, titleY:726.5, title:neutTitles[1],
  curve:motaCurveY, px:motaPtsX, py:motaPtsY, err:motaErr, ic50x:ic50X[1], ic50y:ic50Y[1], color:"#f04cf0", sym:"dia", symSize:22});
drawNeut({id:2, left:51.7, right:180, top:870.7, bottom:956, y0:945.7, y100:876.7, titleY:860.5, title:neutTitles[2],
  curve:hd9CurveY, px:hd9PtsX, py:hd9PtsY, err:hd9Err, ic50x:ic50X[2], ic50y:ic50Y[2], color:"#1f3fe0", sym:"tri", symSize:26});
drawNeut({id:3, left:248.3, right:376.7, top:870.7, bottom:956, y0:945.7, y100:876.7, titleY:860.5, title:neutTitles[3],
  curve:hg7CurveY, px:hg7PtsX, py:hg7PtsY, err:hg7Err, ic50x:ic50X[3], ic50y:ic50Y[3], color:"#f59a23", sym:"sq", symSize:32});

// ---------- Panel e ----------
(function () {
  const g = svg.append("g").attr("font-family", SERIF).attr("fill","#111");
  const x0 = 410, x1 = 671.7, colX = [545, 627.7];
  [738.3, 793.3, 821, 849].forEach((yy, i) => g.append("line").attr("x1", x0).attr("x2", x1).attr("y1", yy).attr("y2", yy)
    .attr("stroke","#333").attr("stroke-width", i === 0 || i === 3 ? 1.1 : 0.9));
  ic50Cols.forEach((c, i) => {
    g.append("text").attr("x", colX[i]).attr("y", 755).attr("text-anchor","middle").attr("font-size",16).text(c);
    g.append("text").attr("x", colX[i]).attr("y", 780.5).attr("text-anchor","middle").attr("font-size",16).text(ic50Unit);
  });
  ic50Rows.forEach((r, j) => {
    const yy = [808.5, 836.7][j];
    g.append("text").attr("x", 432.7).attr("y", yy).attr("font-size",13).text(r);
    ic50Vals[j].forEach((v, i) => g.append("text").attr("x", colX[i]).attr("y", yy).attr("text-anchor","middle").attr("font-size",16).text(v));
  });
})();
</script>
</body></html>
